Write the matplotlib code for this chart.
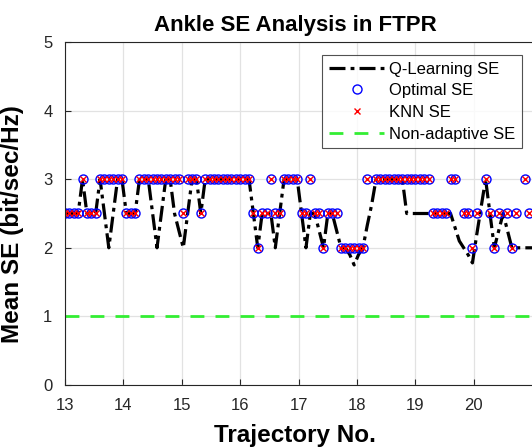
import numpy as np
import matplotlib
matplotlib.use('Agg')
import matplotlib.pyplot as plt

plt.rcParams['font.family'] = ['Liberation Sans', 'DejaVu Sans']

# trajectory samples (13.0 .. 21.0)
traj = 13 + 0.075 * np.arange(108)

nan = np.nan
# optimal SE per sample (KNN picks the same)
optimal_se = [2.5, 2.5, 2.5, 2.5, 3, 2.5, 2.5, 2.5,
              3, 3, 3, 3, 3, 3,
              2.5, 2.5, 2.5,
              3, 3, 3, 3, 3, 3, 3, 3, 3, 3,
              2.5, 3, 3, 3, 2.5,
              3, 3, 3, 3, 3, 3, 3, 3, 3, 3, 3,
              2.5, 2.0, 2.5, 2.5, 3, 2.5, 2.5,
              3, 3, 3, 3, 2.5, 2.5, 3, 2.5, 2.5, 2.0,
              2.5, 2.5, 2.5,
              2.0, 2.0, 2.0, 2.0, 2.0, 2.0,
              3, nan,
              3, 3, 3, 3, 3, 3, 3, 3, 3, 3, 3, 3, 3,
              2.5, 2.5, 2.5, 2.5,
              3, 3, nan, 2.5, 2.5, 2.0, 2.5, nan,
              3, 2.5, 2.0, 2.5, nan, 2.5, 2.0, 2.5, nan, 3, 2.5, nan]
knn_se = list(optimal_se)

qlearn_se = [2.5, 2.5, 2.5, 2.5, 3, 2.5, 2.5, 2.5,
             3, 2.5, 2.0, 2.5, 3, 3,
             2.5, 2.5, 2.5,
             3, 3, 3, 2.5, 2.0, 2.5, 3, 3, 2.5, 2.25,
             2.0, 2.5, 3, 3, 2.5,
             3, 3, 3, 3, 3, 3, 3, 3, 3, 3, 3,
             2.5, 2.0, 2.5, 2.5, 2.5, 2.0, 2.5,
             3, 3, 3, 3, 2.5, 2.0, 2.5, 2.5, 2.25, 2.0,
             2.5, 2.5, 2.25,
             2.0, 2.0, 1.9, 1.75, 1.9, 2.0,
             2.33, 2.63,
             3, 3, 3, 3, 3, 3, 3, 2.5, 2.5, 2.5, 2.5, 2.5, 2.5,
             2.5, 2.5, 2.5, 2.5,
             2.5, 2.3, 2.1, 2.0, 1.9, 1.78, 2.2, 2.6,
             3, 2.5, 2.0, 2.25, 2.5, 2.25, 2.0, 2.0, 2.0, 2.0, 2.0, 2.0]

nonadaptive_se = 1.0

fig = plt.figure(figsize=(5.32, 4.48), dpi=100)
# axes runs past the right edge of the figure, as in the cropped original
ax = fig.add_axes([65 / 532, 63 / 448, (544 - 65) / 532, 343 / 448])

ax.plot(traj, qlearn_se, color='black', lw=2.3, ls=(0, (5, 1.6, 1.2, 1.6)),
        label='Q-Learning SE')
ax.plot(traj, optimal_se, 'o', mfc='none', mec='blue', ms=6.5, mew=1.0,
        ls='none', label='Optimal SE')
ax.plot(traj, knn_se, 'x', color='red', ms=4.5, mew=1.0, ls='none',
        label='KNN SE')
ax.axhline(nonadaptive_se, color='#33ee33', lw=2, ls=(0, (5, 4)),
           label='Non-adaptive SE')

ax.set_xlim(13, 21.2)
ax.set_ylim(0, 5)
ax.set_xticks(range(13, 21))
ax.set_yticks(range(0, 6))
ax.grid(True, color='#e2e2e2', lw=0.9)
ax.set_axisbelow(True)
ax.tick_params(direction='in', length=4, labelsize=12, colors='#262626')
ax.tick_params(axis='x', pad=9)
ax.tick_params(axis='y', pad=9)
for side in ['left', 'top', 'bottom', 'right']:
    ax.spines[side].set_color('#262626')
    ax.spines[side].set_linewidth(0.8)

cx = (295 - 65) / (544 - 65)
ax.set_title('Ankle SE Analysis in FTPR', fontsize=16, fontweight='bold', pad=8,
             x=cx)
ax.set_ylabel('Mean SE (bit/sec/Hz)', fontsize=17.5, fontweight='bold')
ax.yaxis.set_label_coords(-0.085, 0.47)
ax.set_xlabel('Trajectory No.', fontsize=17.5, fontweight='bold')
ax.xaxis.set_label_coords(cx, -0.115)

leg = ax.legend(loc='upper right', bbox_to_anchor=(522 / 532, (448 - 55) / 448),
                bbox_transform=fig.transFigure, fontsize=12, frameon=True,
                fancybox=False, edgecolor='#262626', handlelength=3.3,
                handletextpad=0.3, borderpad=0.4, labelspacing=0.4,
                borderaxespad=0)
leg.get_frame().set_linewidth(0.8)

fig.savefig('out.png', dpi=100)
